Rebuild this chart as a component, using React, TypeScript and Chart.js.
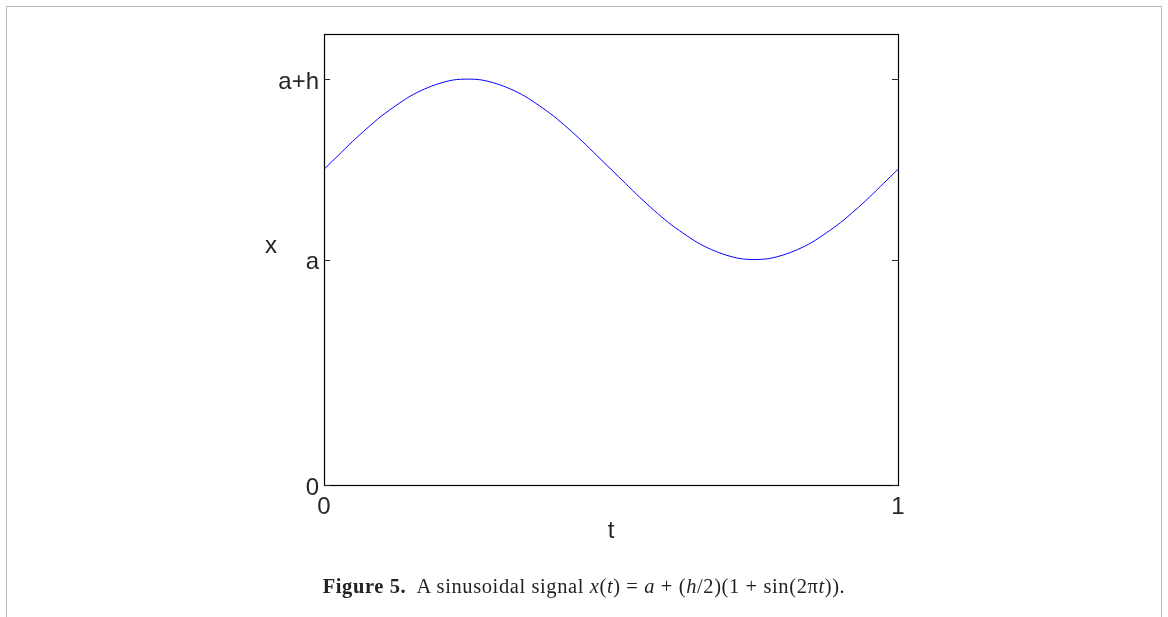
import React, { useEffect, useRef } from "react";
import { Chart, registerables } from "chart.js";

Chart.register(...registerables);

// Time samples (t) read along the horizontal axis
const T_VALUES = [
  0, 0.025, 0.05, 0.075, 0.1, 0.125, 0.15, 0.175, 0.2, 0.225, 0.25,
  0.275, 0.3, 0.325, 0.35, 0.375, 0.4, 0.425, 0.45, 0.475, 0.5,
  0.525, 0.55, 0.575, 0.6, 0.625, 0.65, 0.675, 0.7, 0.725, 0.75,
  0.775, 0.8, 0.825, 0.85, 0.875, 0.9, 0.925, 0.95, 0.975, 1,
];
// Signal values x(t) (a = 5, a+h = 9 on the axis)
const X_VALUES = [
  7.0, 7.31, 7.62, 7.91, 8.18, 8.41, 8.62, 8.78, 8.9, 8.98, 9.0,
  8.98, 8.9, 8.78, 8.62, 8.41, 8.18, 7.91, 7.62, 7.31, 7.0,
  6.69, 6.38, 6.09, 5.82, 5.59, 5.38, 5.22, 5.1, 5.02, 5.0,
  5.02, 5.1, 5.22, 5.38, 5.59, 5.82, 6.09, 6.38, 6.69, 7.0,
];

const Y_TICK_VALUES = [0, 5, 9];
const Y_TICK_LABELS = ["0", "a", "a+h"];
const X_TICK_VALUES = [0, 1];
const X_TICK_LABELS = ["0", "1"];
const Y_MIN = 0;
const Y_MAX = 10;
const X_MIN = 0;
const X_MAX = 1;
const X_TITLE = "t";
const Y_TITLE = "x";

const W = 1168;
const H = 617;
const AXIS_FONT = '24px "Liberation Sans", Arial, Helvetica, sans-serif';
const TEXT_COLOR = "#262626";

const framePlugin = {
  id: "matlabFrame",
  afterDatasetsDraw(chart: any) {
    const { ctx, chartArea, scales } = chart;
    const { left, right, top, bottom } = chartArea;
    const ys = scales.y;
    ctx.save();
    ctx.strokeStyle = "#000";
    ctx.lineWidth = 1.2;
    ctx.strokeRect(left + 0.5, top + 0.5, right - left, bottom - top);
    ctx.strokeStyle = TEXT_COLOR;
    ctx.lineWidth = 1;
    ctx.beginPath();
    Y_TICK_VALUES.forEach((v) => {
      const py = Math.round(ys.getPixelForValue(v)) + 0.5;
      ctx.moveTo(left, py);
      ctx.lineTo(left + 6, py);
      ctx.moveTo(right, py);
      ctx.lineTo(right - 6, py);
    });
    ctx.stroke();
    ctx.font = AXIS_FONT;
    ctx.fillStyle = TEXT_COLOR;
    ctx.textAlign = "center";
    ctx.textBaseline = "alphabetic";
    ctx.fillText(Y_TITLE, left - 53, 253);
    ctx.fillText(X_TITLE, (left + right) / 2, 538);
    ctx.restore();
  },
};

function SignalChart() {
  const ref = useRef<HTMLCanvasElement | null>(null);
  useEffect(() => {
    if (!ref.current) return;
    const points = T_VALUES.map((t, i) => ({ x: t, y: X_VALUES[i] }));
    const chart = new Chart(ref.current, {
      type: "line",
      data: {
        datasets: [
          {
            data: points,
            borderColor: "#0000ff",
            borderWidth: 1,
            pointRadius: 0,
            tension: 0.3,
            fill: false,
          },
        ],
      },
      options: {
        animation: false,
        responsive: false,
        events: [],
        layout: { padding: { left: 264, right: 270, top: 34, bottom: 92 } },
        plugins: {
          legend: { display: false },
          tooltip: { enabled: false },
          title: { display: false },
        },
        scales: {
          x: {
            type: "linear",
            min: X_MIN,
            max: X_MAX,
            afterFit: (s: any) => {
              s.height = 40;
            },
            afterBuildTicks: (s: any) => {
              s.ticks = X_TICK_VALUES.map((v) => ({ value: v }));
            },
            grid: { display: false, drawTicks: false },
            border: { display: false },
            ticks: {
              padding: 8,
              color: TEXT_COLOR,
              font: { family: '"Liberation Sans", Arial, sans-serif', size: 24 },
              maxRotation: 0,
              autoSkip: false,
              callback: (v: any) => {
                const i = X_TICK_VALUES.indexOf(Number(v));
                return i >= 0 ? X_TICK_LABELS[i] : "";
              },
            },
          },
          y: {
            type: "linear",
            min: Y_MIN,
            max: Y_MAX,
            afterFit: (s: any) => {
              s.width = 60;
            },
            afterBuildTicks: (s: any) => {
              s.ticks = Y_TICK_VALUES.map((v) => ({ value: v }));
            },
            grid: { display: false, drawTicks: false },
            border: { display: false },
            ticks: {
              padding: 5,
              labelOffset: 3,
              color: TEXT_COLOR,
              font: { family: '"Liberation Sans", Arial, sans-serif', size: 24 },
              autoSkip: false,
              callback: (v: any) => {
                const i = Y_TICK_VALUES.indexOf(Number(v));
                return i >= 0 ? Y_TICK_LABELS[i] : "";
              },
            },
          },
        },
      },
      plugins: [framePlugin],
    });
    return () => chart.destroy();
  }, []);
  return (
    <canvas
      ref={ref}
      width={W}
      height={H}
      style={{ position: "absolute", left: 0, top: 0, width: W, height: H }}
    />
  );
}

export default function App() {
  return (
    <div style={{ position: "absolute", left: 0, top: 0, width: W, height: H, overflow: "hidden", background: "#fff" }}>
      <div
        style={{
          position: "absolute",
          left: 6,
          top: 6,
          width: 1154,
          height: 700,
          borderLeft: "1.5px solid #bcbcbc",
          borderTop: "1.5px solid #bcbcbc",
          borderRight: "1.5px solid #bcbcbc",
        }}
      />
      <SignalChart />
      <div
        style={{
          position: "absolute",
          left: 0,
          top: 576,
          width: W,
          textAlign: "center",
          fontFamily: '"Liberation Serif", "Times New Roman", serif',
          fontSize: 20.5,
          letterSpacing: "0.6px",
          lineHeight: "20px",
          color: "#231f20",
          whiteSpace: "pre",
        }}
      >
        <b>Figure 5.</b>{"  A sinusoidal signal "}
        <i>x</i>(<i>t</i>) = <i>a</i> + (<i>h</i>/2)(1 + sin(2π<i>t</i>)).
      </div>
    </div>
  );
}
